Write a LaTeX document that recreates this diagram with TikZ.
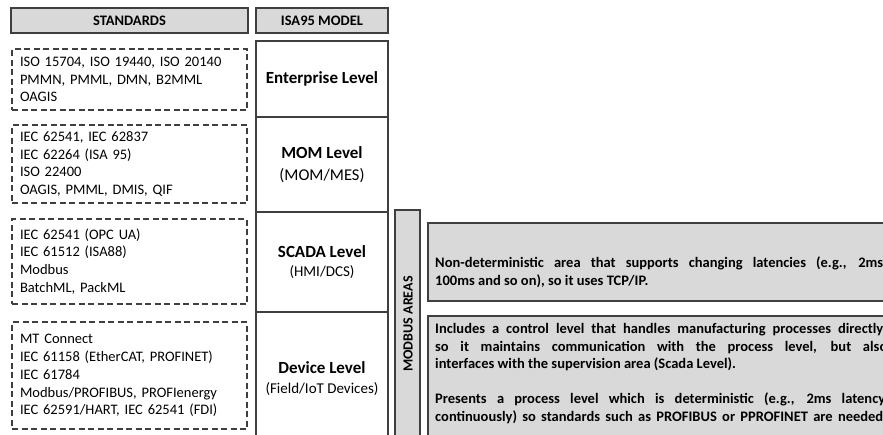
\documentclass[tikz,border=0pt]{standalone}
\usepackage{fontspec}
\setmainfont{Carlito}
\definecolor{edge}{HTML}{3F3F3F}
\definecolor{shade}{HTML}{D9D9D9}
\tikzset{
  hdr/.style={draw=edge, line width=1.3pt, fill=shade, inner sep=0pt,
    font=\fontsize{14.5}{17}\selectfont\bfseries},
  lvl/.style={draw=edge, line width=1.3pt, fill=white, inner sep=0pt, align=center,
    font=\fontsize{17}{20}\selectfont},
  stdbox/.style={draw=edge, line width=1.1pt, dash pattern=on 6pt off 3.5pt,
    inner xsep=8pt, inner ysep=0pt, align=left,
    font=\fontsize{14.5}{17.8}\selectfont},
  areabox/.style={draw=edge, line width=1.3pt, fill=shade, inner sep=0pt},
  areatext/.style={inner sep=0pt, align=left, anchor=west,
    font=\fontsize{14.5}{17.6}\selectfont\bfseries},
}
\newcommand{\jline}[2]{\makebox[#1pt][s]{#2}}
\begin{document}
\begin{tikzpicture}[x=1pt,y=-1pt]
\useasboundingbox (0,0) rectangle (883,434);
\clip (0,0) rectangle (883,434);
\fill[white] (0,0) rectangle (883,434);
% headers
\node[hdr, minimum width=237pt, minimum height=25pt] (hstd) at (129.5,20.5) {STANDARDS};
\node[hdr, minimum width=132pt, minimum height=25pt] (hisa) at (322,20.5) {ISA95 MODEL};
% ISA95 levels
\node[lvl, minimum width=132pt, minimum height=76pt] (ent) at (322,79)
  {\bfseries Enterprise Level};
\node[lvl, minimum width=132pt, minimum height=95pt] (mom) at (322,164.5)
  {\textbf{MOM Level}\\[2pt]
   {\fontsize{16.5}{20}\selectfont (MOM/MES)}};
\node[lvl, minimum width=132pt, minimum height=100pt] (scada) at (322,262)
  {\textbf{SCADA Level}\\[-1pt]
   {\fontsize{15}{18}\selectfont (HMI/DCS)}};
\node[lvl, minimum width=132pt, minimum height=133pt] (dev) at (322,378.5)
  {\textbf{Device Level}\\[0pt]
   {\fontsize{15}{18}\selectfont (Field/IoT Devices)}};
% standards
\node[stdbox, text width=219pt, minimum height=61pt] (s1) at (129.5,79.5)
  {ISO 15704, ISO 19440, ISO 20140\\PMMN, PMML, DMN, B2MML\\OAGIS};
\node[stdbox, text width=219pt, minimum height=78pt] (s2) at (129.5,164)
  {IEC 62541, IEC 62837\\IEC 62264 (ISA 95)\\ISO 22400\\OAGIS, PMML, DMIS, QIF};
\node[stdbox, text width=219pt, minimum height=85pt] (s3) at (129.5,261.5)
  {IEC 62541 (OPC UA)\\IEC 61512 (ISA88)\\Modbus\\BatchML, PackML};
\node[stdbox, text width=219pt, minimum height=107pt] (s4) at (129.5,375.5)
  {MT Connect\\IEC 61158 (EtherCAT, PROFINET)\\IEC 61784\\Modbus/PROFIBUS, PROFIenergy\\IEC 62591/HART, IEC 62541 (FDI)};
% modbus areas
\node[areabox, minimum width=25pt, minimum height=235pt] (mb) at (407.5,327.5) {};
\node[rotate=90, inner sep=0pt, font=\fontsize{14}{16}\selectfont\bfseries] (mbt) at (408,324) {MODBUS AREAS};
% area boxes
\node[areabox, minimum width=492pt, minimum height=78pt] (a1) at (674,262) {};
\node[areabox, minimum width=492pt, minimum height=134pt] (a2) at (674,383) {};
\node[areatext] (a1t) at (435,272)
  {\jline{448}{Non-deterministic area that supports changing latencies (e.g., 2ms}\\
   100ms and so on), so it uses TCP/IP.};
\node[areatext] (a2t) at (435,373.5)
  {\jline{448}{Includes a control level that handles manufacturing processes directly}\\
   \jline{452}{so it maintains communication with the process level, but also}\\
   interfaces with the supervision area (Scada Level).\\[17.6pt]
   \jline{450}{Presents a process level which is deterministic (e.g., 2ms latency}\\
   \jline{448}{continuously) so standards such as PROFIBUS or PPROFINET are needed}};
\end{tikzpicture}
\end{document}
